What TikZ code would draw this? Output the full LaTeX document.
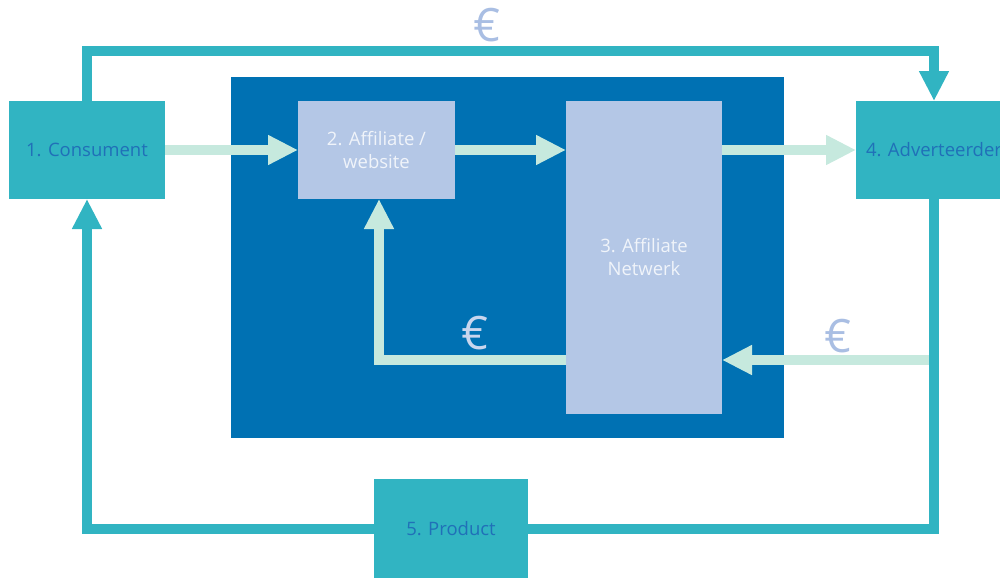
\documentclass[tikz,border=0pt]{standalone}
\usepackage{fontspec}
\setmainfont{Open Sans}
\usetikzlibrary{arrows.meta}

\definecolor{tealbox}{HTML}{31B4C2}
\definecolor{panelblue}{HTML}{0071B3}
\definecolor{lavbox}{HTML}{B4C7E6}
\definecolor{mintflow}{HTML}{C6E9DE}
\definecolor{labelblue}{HTML}{2070B8}
\definecolor{eurolav}{HTML}{A9BEE3}
\definecolor{eurolight}{HTML}{C9D6EE}
\definecolor{labelwhite}{HTML}{F0F4FA}

\newcommand{\labelfont}{\fontsize{18.5}{23}\selectfont}
\newcommand{\eurofont}{\fontsize{46}{46}\selectfont}

\tikzset{
  partybox/.style={fill=tealbox, text=labelblue, minimum width=156pt, minimum height=98pt,
                   inner sep=0pt, outer sep=0pt, align=center, font=\labelfont},
  affbox/.style={fill=lavbox, text=labelwhite, minimum width=157pt, inner sep=0pt,
                 outer sep=0pt, align=center, font=\labelfont},
  moneyflow/.style={line width=10pt, tealbox},
  clickflow/.style={line width=10pt, mintflow},
  bigtip/.style={-{Triangle[length=30pt, width=28pt]}},
  eurosign/.style={font=\eurofont, inner sep=0pt}
}

\begin{document}
\begin{tikzpicture}[x=1pt, y=-1pt]
  \useasboundingbox (0,0) rectangle (1000,578);
  \clip (0,0) rectangle (1000,578);

  % =======================================================
  % Affiliate network panel
  % =======================================================
  \node[fill=panelblue, minimum width=553pt, minimum height=361pt, inner sep=0pt, outer sep=0pt]
    (panel) at (507.5,257.5) {};
  \node[affbox, minimum height=98pt] (aff) at (376.5,150) {2. Affiliate /\\website};
  \node[affbox, minimum width=156pt, minimum height=313pt] (net) at (644,257.5) {3. Affiliate\\Netwerk};

  % =======================================================
  % Parties outside the panel
  % =======================================================
  \node[partybox] (cons) at (87,150) {1. Consument};
  \node[partybox] (adv) at (934,150) {4. Adverteerder};
  \node[partybox, minimum width=154pt, minimum height=99pt] (prod) at (451,528.5) {5. Product};

  \coordinate (toprow) at (0,51);
  \coordinate (eurorow) at (0,360);

  % consumer pays the advertiser
  \draw[moneyflow, bigtip] (cons.north) |- (adv.north |- toprow) -- (adv.north);

  % product goes back to the consumer
  \draw[moneyflow] (adv.south) |- (prod.east);
  \draw[moneyflow, bigtip] (prod.west) -| (cons.south);

  % clicks and leads
  \draw[clickflow, bigtip] (cons.east) -- (aff.west);
  \draw[clickflow, bigtip] (aff.east) -- (aff.east -| net.west);
  \draw[clickflow, bigtip] (net.east |- aff.east) -- (adv.west);

  % commission paid back
  \draw[clickflow, bigtip] ([xshift=-5pt]adv.south |- eurorow) -- (net.east |- eurorow);
  \draw[clickflow, bigtip] (net.west |- eurorow) -| ([xshift=2.5pt]aff.south);

  % euro signs
  \node[eurosign, text=eurolav] (eurotop) at (487,25) {€};
  \node[eurosign, text=eurolight] (euromid) at (475,333) {€};
  \node[eurosign, text=eurolav] (euroright) at (838,336) {€};
\end{tikzpicture}
\end{document}
